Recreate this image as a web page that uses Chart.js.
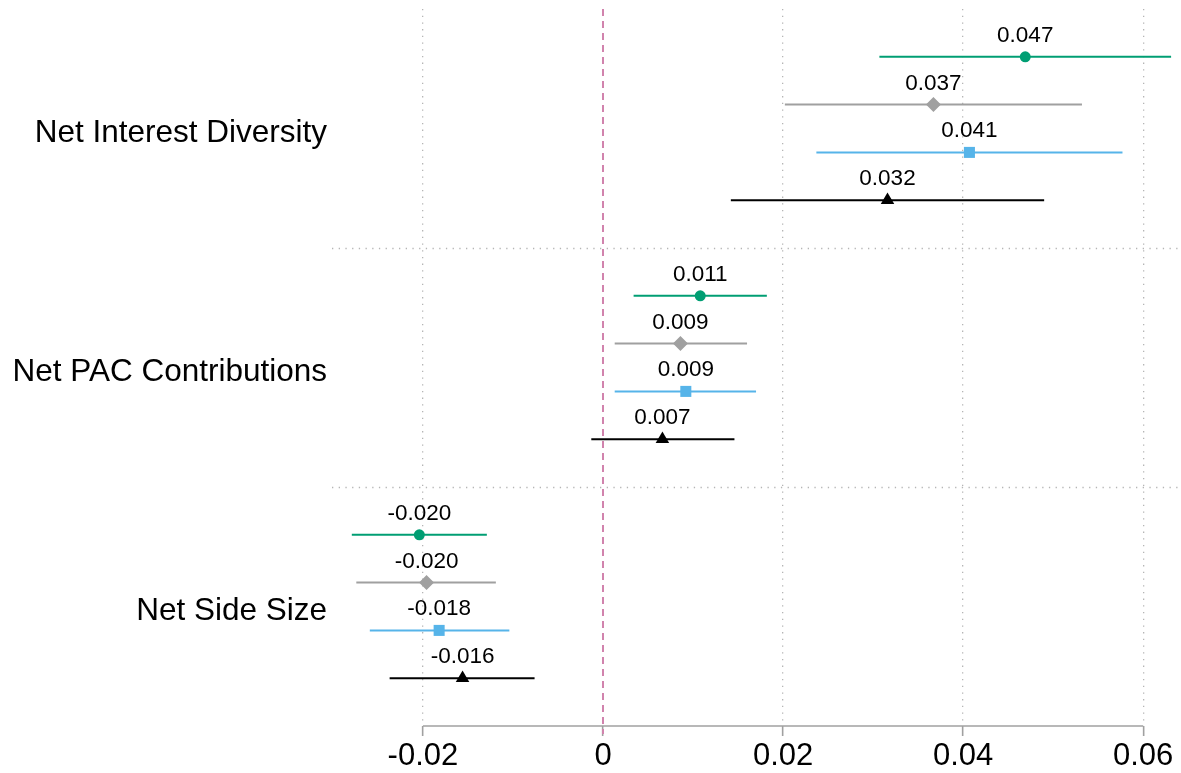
<!DOCTYPE html>
<html>
<head>
<meta charset="utf-8">
<script src="https://cdn.jsdelivr.net/npm/chart.js@4"></script>
<style>
  body { margin: 0; background: #fff; }
  #wrap { width: 1181px; height: 773px; position: relative; }
</style>
</head>
<body>
<div id="wrap"><canvas id="coefPlot"></canvas></div>
<script>
// categorias (grupos no eixo y) e ticks do eixo x
const groups = ["Net Interest Diversity", "Net PAC Contributions", "Net Side Size"];
const xTicks = [-0.02, 0, 0.02, 0.04, 0.06];

// estimativas e intervalos de confiança, um array por série (ordem dos grupos)
const estGreen = [0.0469, 0.0108, -0.0204];
const loGreen = [0.0307, 0.0034, -0.0279];
const hiGreen = [0.0631, 0.0182, -0.0129];

const estGray = [0.0367, 0.0086, -0.0196];
const loGray = [0.0202, 0.0013, -0.0274];
const hiGray = [0.0532, 0.0160, -0.0119];

const estBlue = [0.0407, 0.0092, -0.0182];
const loBlue = [0.0237, 0.0013, -0.0259];
const hiBlue = [0.0577, 0.0170, -0.0104];

const estBlack = [0.0316, 0.0066, -0.0156];
const loBlack = [0.0142, -0.0013, -0.0237];
const hiBlack = [0.0490, 0.0146, -0.0076];

const FONT = "'Liberation Sans', Arial, Helvetica, sans-serif";

const series = [
  { est: estGreen, lo: loGreen, hi: hiGreen, color: "#009e73", style: "circle", radius: 5.5 },
  { est: estGray, lo: loGray, hi: hiGray, color: "#a0a0a0", style: "rectRot", radius: 7.5 },
  { est: estBlue, lo: loBlue, hi: hiBlue, color: "#56b4e9", style: "rect", radius: 7.8 },
  { est: estBlack, lo: loBlack, hi: hiBlack, color: "#000000", style: "triangle", radius: 7.8 },
];

// linha de cada série dentro do grupo: grupo g, série s -> 5*g + s
const rowOf = (g, s) => g * 5 + s;

const datasets = [];
series.forEach((s, si) => {
  groups.forEach((_, g) => {
    datasets.push({
      type: "line",
      data: [{ x: s.lo[g], y: rowOf(g, si) }, { x: s.hi[g], y: rowOf(g, si) }],
      borderColor: s.color,
      borderWidth: 2,
      pointRadius: 0,
      showLine: true,
      order: 2,
    });
  });
});
series.forEach((s, si) => {
  datasets.push({
    type: "scatter",
    data: groups.map((_, g) => ({ x: s.est[g], y: rowOf(g, si) })),
    backgroundColor: s.color,
    borderColor: s.color,
    borderWidth: 0,
    pointStyle: s.style,
    pointRadius: s.radius,
    isEstimate: true,
    order: 1,
  });
});

// linhas extras: separadores dos grupos, linha do zero, eixo x e rótulos dos valores
const extras = {
  id: "extras",
  beforeDatasetsDraw(chart) {
    const { ctx, chartArea, scales } = chart;
    ctx.save();
    ctx.strokeStyle = "#b5b5b5";
    ctx.lineWidth = 1.3;
    ctx.setLineDash([1.3, 5.4]);
    [4, 9].forEach(v => {
      const y = Math.round(scales.y.getPixelForValue(v)) + 0.5;
      ctx.beginPath();
      ctx.moveTo(chartArea.left, y);
      ctx.lineTo(chartArea.right, y);
      ctx.stroke();
    });
    // linha vertical no zero
    const x0 = scales.x.getPixelForValue(0);
    ctx.strokeStyle = "#d183ad";
    ctx.lineWidth = 2;
    ctx.setLineDash([7, 5]);
    ctx.beginPath();
    ctx.moveTo(x0, chartArea.top);
    ctx.lineTo(x0, chartArea.bottom + 8);
    ctx.stroke();
    // eixo x só entre o primeiro e o último tick
    ctx.setLineDash([]);
    ctx.strokeStyle = "#a0a0a0";
    ctx.lineWidth = 1.6;
    ctx.beginPath();
    ctx.moveTo(scales.x.getPixelForValue(xTicks[0]), chartArea.bottom);
    ctx.lineTo(scales.x.getPixelForValue(xTicks[xTicks.length - 1]), chartArea.bottom);
    ctx.stroke();
    ctx.restore();
  },
  afterDatasetsDraw(chart) {
    const { ctx } = chart;
    ctx.save();
    ctx.font = "22.5px " + FONT;
    ctx.fillStyle = "#000";
    ctx.textAlign = "center";
    ctx.textBaseline = "alphabetic";
    chart.data.datasets.forEach((ds, i) => {
      if (!ds.isEstimate) return;
      chart.getDatasetMeta(i).data.forEach((pt, j) => {
        ctx.fillText(ds.data[j].x.toFixed(3), pt.x, pt.y - 15);
      });
    });
    ctx.restore();
  },
};

new Chart(document.getElementById("coefPlot"), {
  type: "scatter",
  data: { datasets },
  plugins: [extras],
  options: {
    responsive: true,
    maintainAspectRatio: false,
    animation: false,
    layout: { padding: 0, autoPadding: false },
    plugins: { legend: { display: false }, tooltip: { enabled: false } },
    scales: {
      x: {
        type: "linear",
        min: -0.0301,
        max: 0.0642,
        afterBuildTicks: scale => { scale.ticks = xTicks.map(v => ({ value: v })); },
        afterFit: scale => {
          scale.height = 47;
          scale.paddingLeft = 0;
          scale.paddingRight = 0;
        },
        grid: {
          color: c => (c.tick && c.tick.value === 0 ? "rgba(0,0,0,0)" : "#b5b5b5"),
          lineWidth: 1.3,
          drawTicks: true,
          tickLength: 10,
          tickColor: "#a0a0a0",
          tickWidth: 1.6,
        },
        border: { display: false, dash: [1.3, 5.4] },
        ticks: {
          color: "#000",
          padding: 2,
          font: { family: FONT, size: 31 },
          callback: v => (v === 0 ? "0" : String(Math.round(v * 100) / 100)),
        },
      },
      y: {
        type: "linear",
        min: -1,
        max: 14,
        reverse: true,
        // rótulo de cada grupo um pouco abaixo do meio das quatro linhas
        afterBuildTicks: scale => { scale.ticks = groups.map((_, g) => ({ value: g * 5 + 1.6 })); },
        afterFit: scale => {
          scale.width = 332;
          scale.paddingTop = 9;
          scale.paddingBottom = 0;
        },
        grid: { display: false, drawTicks: false, tickLength: 0 },
        border: { display: false },
        ticks: {
          color: "#000",
          padding: 5,
          font: { family: FONT, size: 31.5 },
          callback: v => groups[Math.round((v - 1.6) / 5)],
        },
      },
    },
  },
});
</script>
</body>
</html>
